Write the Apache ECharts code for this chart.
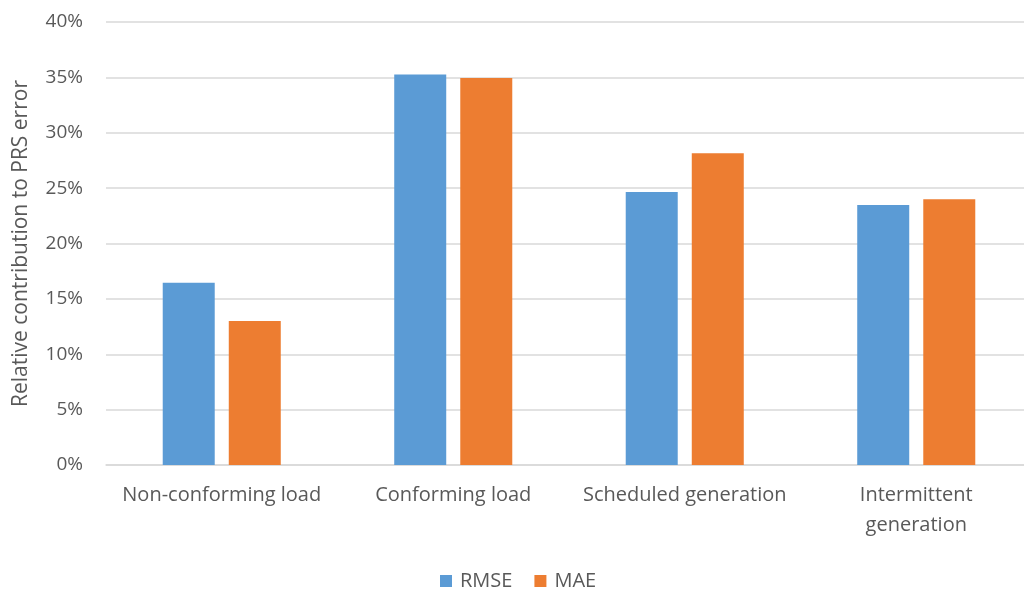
<!DOCTYPE html>
<html><head><meta charset="utf-8">
<script src="https://cdn.jsdelivr.net/npm/echarts@6/dist/echarts.min.js"></script>
<style>html,body{margin:0;padding:0;background:#fff;overflow:hidden}#c{width:1040px;height:590px}</style>
</head><body><div id="c"></div>
<script>
const categories = ['Non-conforming load', 'Conforming load', 'Scheduled generation', 'Intermittent\ngeneration'];
const rmse = [16.45, 35.27, 24.65, 23.48];
const mae = [13.0, 34.94, 28.15, 24.0];
const seriesNames = ['RMSE', 'MAE'];
const yTicks = {min: 0, max: 40, interval: 5};
const yName = 'Relative contribution to PRS error';

const font = '"Open Sans", Lato, sans-serif';
const chart = echarts.init(document.getElementById('c'), null, {renderer: 'canvas'});
chart.setOption({
  animation: false,
  textStyle: {fontFamily: font},
  grid: {left: 106, top: 22, width: 926, height: 443, containLabel: false},
  legend: {
    data: seriesNames, top: 566, left: 435, itemWidth: 12, itemHeight: 12, itemGap: 22,
    icon: 'rect',
    textStyle: {fontFamily: font, fontSize: 20, color: '#595959', padding: [0, 0, 0, 3]}
  },
  xAxis: {
    type: 'category', data: categories,
    axisLine: {lineStyle: {color: '#d9d9d9', width: 1.5}},
    axisTick: {show: false},
    axisLabel: {fontFamily: font, fontSize: 20, color: '#595959', margin: 15, lineHeight: 30, interval: 0}
  },
  yAxis: {
    type: 'value', min: yTicks.min, max: yTicks.max, interval: yTicks.interval,
    name: yName, nameLocation: 'middle', nameGap: 74, nameRotate: 90,
    nameTextStyle: {fontFamily: font, fontSize: 21, color: '#595959'},
    axisLine: {show: false}, axisTick: {show: false},
    axisLabel: {formatter: '{value}%', fontFamily: font, fontSize: 19, color: '#595959', margin: 23},
    splitLine: {lineStyle: {color: '#d9d9d9', width: 1.5}}
  },
  series: [
    {name: seriesNames[0], type: 'bar', data: rmse, barWidth: 52, barGap: '27%',
     itemStyle: {color: '#5b9bd5'}},
    {name: seriesNames[1], type: 'bar', data: mae, barWidth: 52, barGap: '27%',
     itemStyle: {color: '#ed7d31'}}
  ]
});
</script></body></html>
